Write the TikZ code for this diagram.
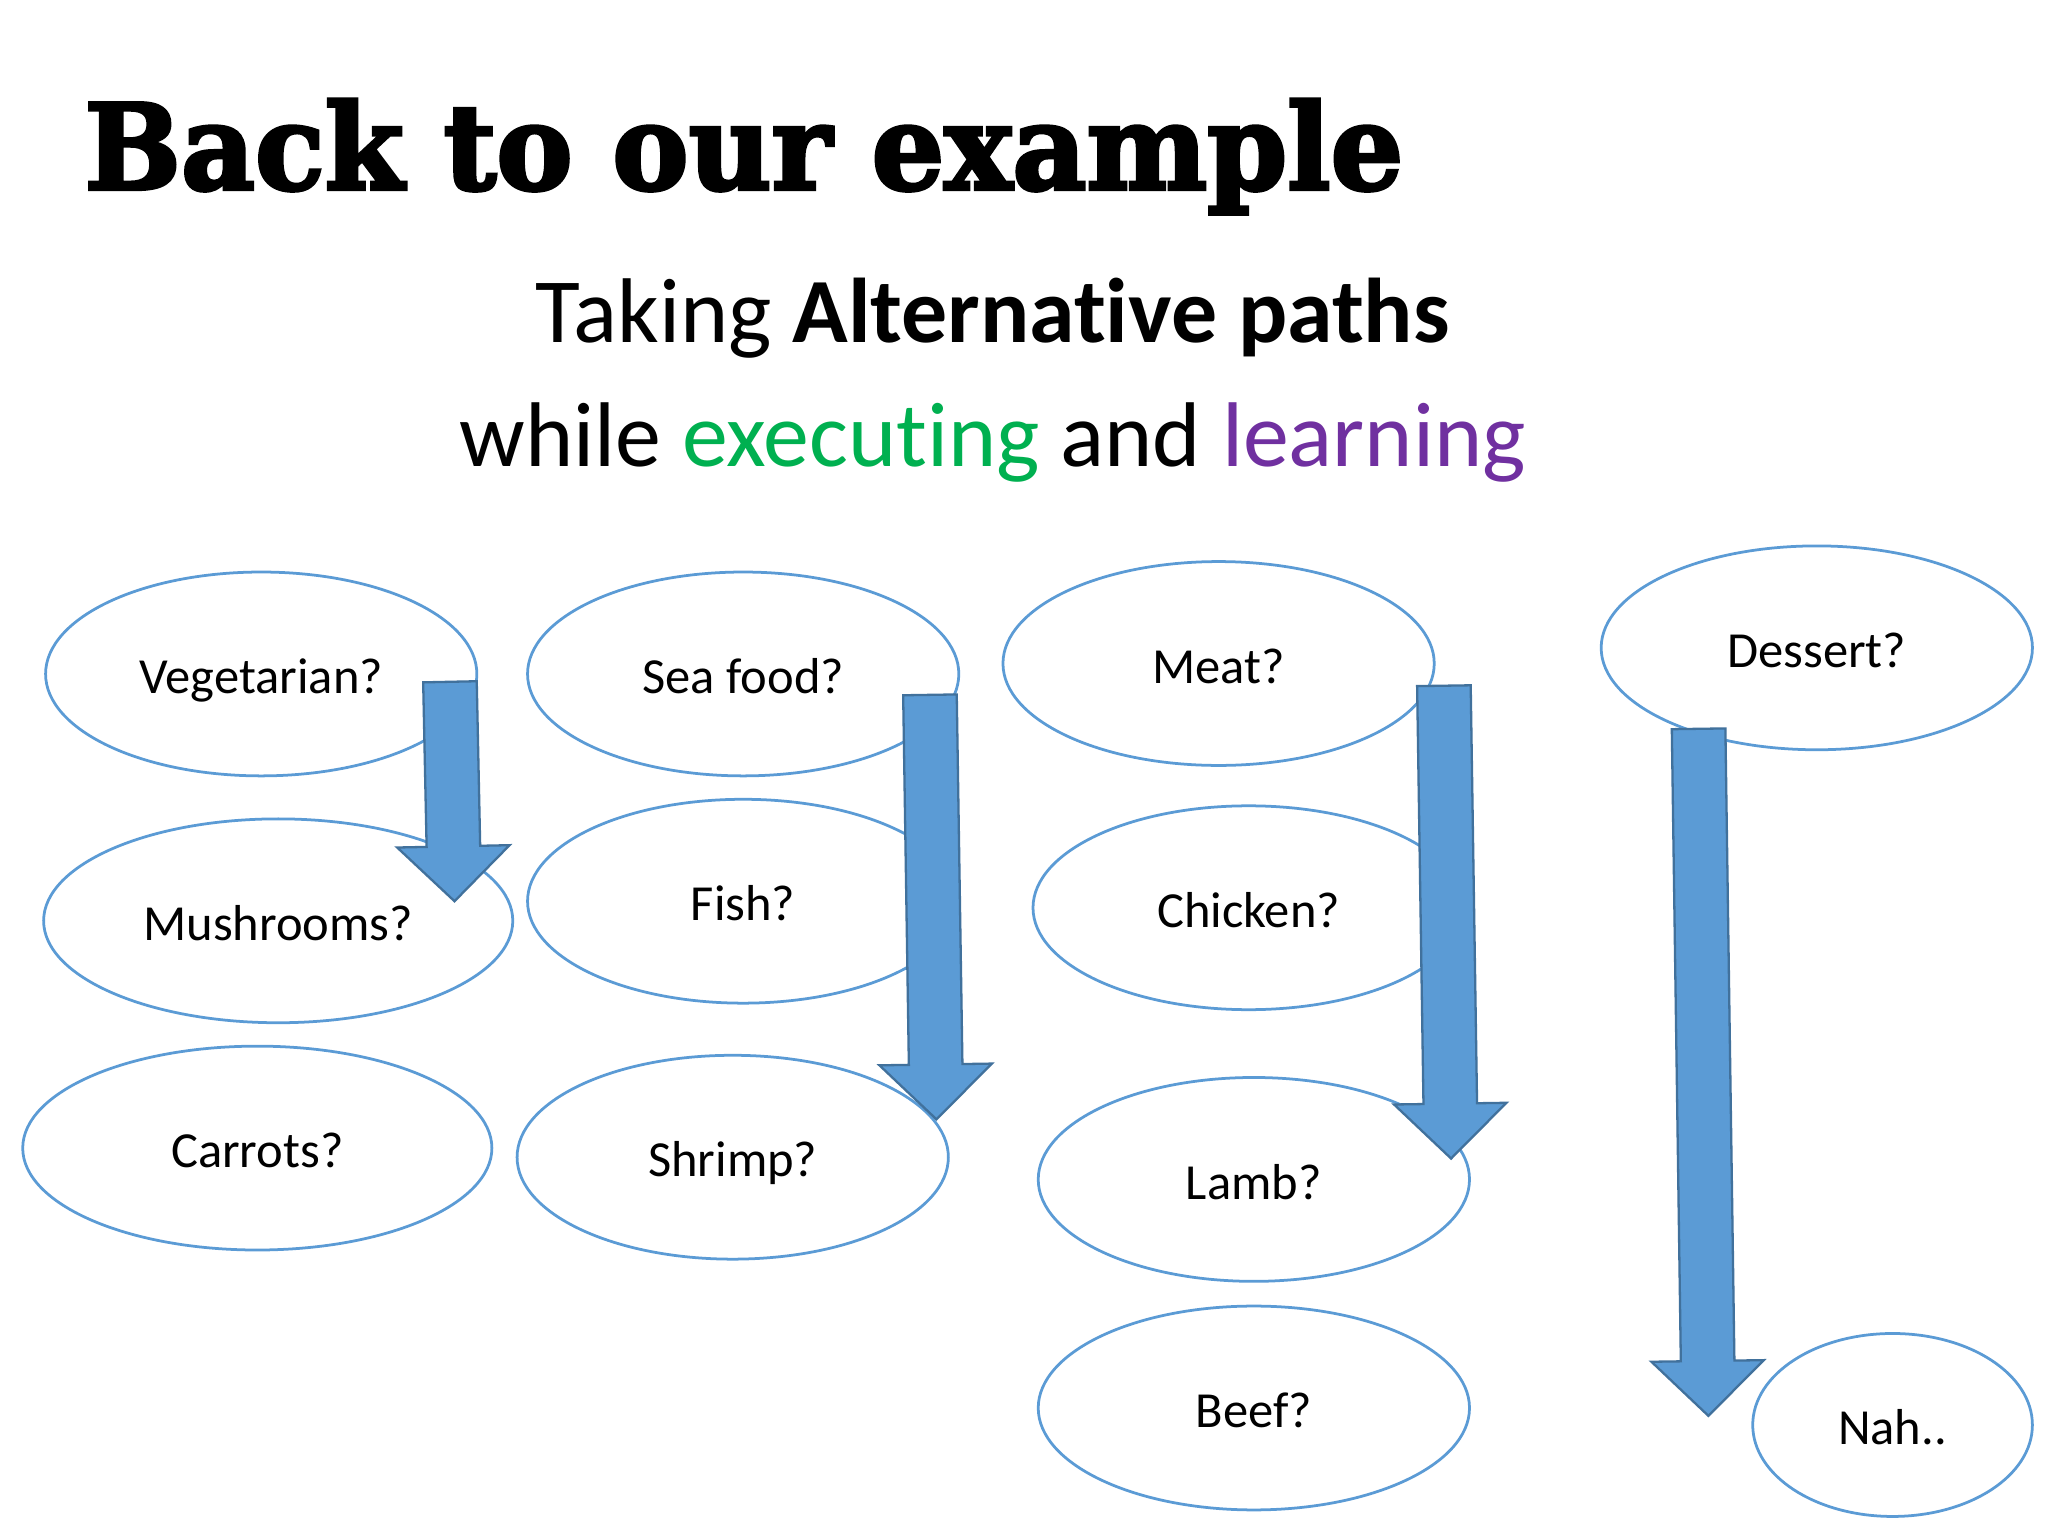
\documentclass[tikz,border=0pt]{standalone}
\usepackage{fontspec}
\usepackage{graphicx}
\setmainfont{Carlito}[Ligatures={NoCommon}]
\newfontfamily\titlefont[FakeBold=3]{DejaVu Serif Bold}
\usetikzlibrary{calc,shapes.geometric}
\definecolor{ovalblue}{HTML}{5B9BD5}
\definecolor{arrowedge}{HTML}{41719C}
\definecolor{execgreen}{HTML}{00B050}
\definecolor{learnpurple}{HTML}{7030A0}
\tikzset{
	choice/.style={ellipse, draw=ovalblue, line width=0.6pt, inner sep=0pt,
		minimum width=3.3cm, minimum height=1.56cm,
		font=\fontsize{11}{13}\selectfont, text height=8.6pt, text depth=0pt},
	widechoice/.style={choice, minimum width=3.59cm},
	arrowfill/.style={fill=ovalblue, draw=arrowedge, line width=0.5pt, line join=miter}
}
% block arrow from shaft top (#1) to tip (#2)
\def\blockarrow(#1)(#2){
	\coordinate (#1-h) at ($(#2)!0.42cm!(#1)$);
	\draw[arrowfill] ($(#1)!0.205cm!-90:(#2)$) -- ($(#1)!0.205cm!90:(#2)$)
		-- ($(#1-h)!0.205cm!90:(#2)$) -- ($(#1-h)!0.43cm!90:(#2)$) -- (#2)
		-- ($(#1-h)!0.43cm!-90:(#2)$) -- ($(#1-h)!0.205cm!-90:(#2)$) -- cycle;
}

\begin{document}
\begin{tikzpicture}[x=0.01cm, y=-0.01cm]
		%%%%% START %%%%%
		
		\useasboundingbox (0, 0) rectangle (1568, 1176);
		\fill[white] (0, 0) rectangle (1568, 1176);
		
		\node[anchor=base west, inner sep=0pt] (title) at (64, 145) {\resizebox{10.09cm}{0.69cm}{\titlefont Back to our example}};
		\node[anchor=base, inner sep=0pt, font=\fontsize{20}{24}\selectfont] (subtitle) at (760, 262) {Taking \textbf{Alternative paths}};
		\node[anchor=base, inner sep=0pt, font=\fontsize{20}{24}\selectfont] (subline) at (760, 357) {while \textcolor{execgreen}{executing} and \textcolor{learnpurple}{learning}};
		
		\node[choice] (veg) at (200, 516) {Vegetarian?};
		\node[widechoice] (mush) at (213, 705) {Mushrooms?};
		\node[widechoice] (carrot) at (197, 879) {Carrots?};
		
		\node[choice] (seafood) at (569, 516) {Sea food?};
		\node[choice] (fish) at (569, 690) {Fish?};
		\node[choice] (shrimp) at (561, 886) {Shrimp?};
		
		\node[choice] (meat) at (933, 508) {Meat?};
		\node[choice] (chicken) at (956, 695) {Chicken?};
		\node[choice] (lamb) at (960, 903) {Lamb?};
		\node[choice] (beef) at (960, 1078) {Beef?};
		
		\node[choice] (dessert) at (1391, 496) {Dessert?};
		\node[choice, minimum width=2.14cm, minimum height=1.4cm] (nah) at (1449, 1091) {Nah..};
		
		\coordinate (vegtop) at (344.5, 522);
		\coordinate (mushtip) at (348, 690);
		\coordinate (seatop) at (712, 532);
		\coordinate (shrimptip) at (717, 857);
		\coordinate (meattop) at (1105.5, 525);
		\coordinate (lambtip) at (1111, 887);
		\coordinate (desserttop) at (1300.5, 558);
		\coordinate (nahtip) at (1308, 1084);
		
		\blockarrow(vegtop)(mushtip)
		\blockarrow(seatop)(shrimptip)
		\blockarrow(meattop)(lambtip)
		\blockarrow(desserttop)(nahtip)
		
		%%%%% END %%%%%
	\end{tikzpicture}
\end{document}
